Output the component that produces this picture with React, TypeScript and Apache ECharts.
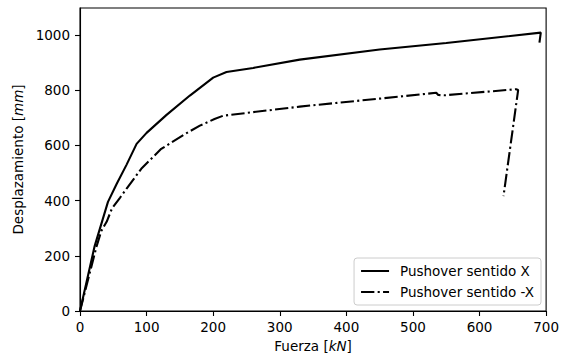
import React, { useEffect, useRef } from "react";
import * as echarts from "echarts";

const seriesNames = ["Pushover sentido X", "Pushover sentido -X"];

const forceX = [0, 22, 42, 55, 70, 85, 100, 130, 165, 200, 220, 260, 330, 450, 550, 692, 690];
const dispX = [0, 235, 395, 460, 530, 605, 645, 710, 780, 845, 865, 880, 910, 947, 970, 1008, 972];

const forceNegX = [0, 25, 32, 40, 48, 60, 70, 92, 122, 158, 180, 202, 215, 330, 450, 535, 538, 548, 655, 658, 636];
const dispNegX = [0, 235, 290, 323, 371, 410, 443, 515, 587, 641, 671, 695, 707, 740, 769, 790, 782, 781, 803, 800, 416];

const xTicks = [0, 100, 200, 300, 400, 500, 600, 700];
const yTicks = [0, 200, 400, 600, 800, 1000];

const FONT = "DejaVu Sans";
const FS = 13.5;

export default function App() {
  const ref = useRef<HTMLDivElement>(null);
  useEffect(() => {
    document.body.style.margin = "0";
    const chart = echarts.init(ref.current!, null, { renderer: "svg" });
    const dataX = forceX.map((f, i) => [f, dispX[i]]);
    const dataN = forceNegX.map((f, i) => [f, dispNegX[i]]);
    chart.setOption({
      animation: false,
      backgroundColor: "#fff",
      textStyle: { fontFamily: FONT, color: "#000" },
      grid: {
        left: 80,
        right: 15,
        top: 8,
        bottom: 45,
        show: true,
        borderColor: "#000",
        borderWidth: 1.1,
        backgroundColor: "transparent",
      },
      legend: {
        orient: "vertical",
        right: 21,
        bottom: 53,
        padding: [6, 7, 6, 6],
        itemGap: 7,
        itemWidth: 28,
        itemHeight: 10,
        borderColor: "#cccccc",
        borderWidth: 1,
        borderRadius: 3,
        backgroundColor: "rgba(255,255,255,0.8)",
        itemStyle: { opacity: 0 },
        textStyle: { fontFamily: FONT, fontSize: FS, color: "#000", padding: [0, 0, 0, 6] },
        data: seriesNames,
      },
      xAxis: {
        type: "value",
        min: 0,
        max: 700,
        interval: 100,
        name: "Fuerza [{i|kN}]",
        nameLocation: "middle",
        nameGap: 28,
        nameTextStyle: {
          fontFamily: FONT,
          fontSize: FS,
          color: "#000",
          rich: { i: { fontFamily: FONT, fontStyle: "italic", fontSize: FS, color: "#000" } },
        },
        axisLine: { show: true, lineStyle: { color: "#000", width: 1.1 } },
        axisTick: { show: true, length: 5, lineStyle: { color: "#000", width: 1.1 }, customValues: xTicks },
        axisLabel: {
          fontFamily: FONT,
          fontSize: FS,
          color: "#000",
          margin: 9,
          customValues: xTicks,
          formatter: (v: number) => String(v),
        },
        splitLine: { show: false },
      },
      yAxis: {
        type: "value",
        min: 0,
        max: 1097,
        name: "Desplazamiento [{i|mm}]",
        nameLocation: "middle",
        nameGap: 47,
        nameTextStyle: {
          fontFamily: FONT,
          fontSize: FS,
          color: "#000",
          rich: { i: { fontFamily: FONT, fontStyle: "italic", fontSize: FS, color: "#000" } },
        },
        axisLine: { show: true, lineStyle: { color: "#000", width: 1.1 } },
        axisTick: { show: true, length: 5, lineStyle: { color: "#000", width: 1.1 }, customValues: yTicks },
        axisLabel: {
          fontFamily: FONT,
          fontSize: FS,
          color: "#000",
          margin: 10,
          customValues: yTicks,
          formatter: (v: number) => String(v),
        },
        splitLine: { show: false },
      },
      series: [
        {
          name: seriesNames[0],
          type: "line",
          data: dataX,
          symbol: "none",
          lineStyle: { color: "#000", width: 2.1, type: "solid" },
          itemStyle: { color: "#000" },
        },
        {
          name: seriesNames[1],
          type: "line",
          data: dataN,
          symbol: "none",
          lineStyle: { color: "#000", width: 2.1, type: [13.3, 3.3, 2.1, 3.3] },
          itemStyle: { color: "#000" },
        },
      ],
    });
    return () => chart.dispose();
  }, []);
  return <div ref={ref} style={{ width: 562, height: 358 }} />;
}
